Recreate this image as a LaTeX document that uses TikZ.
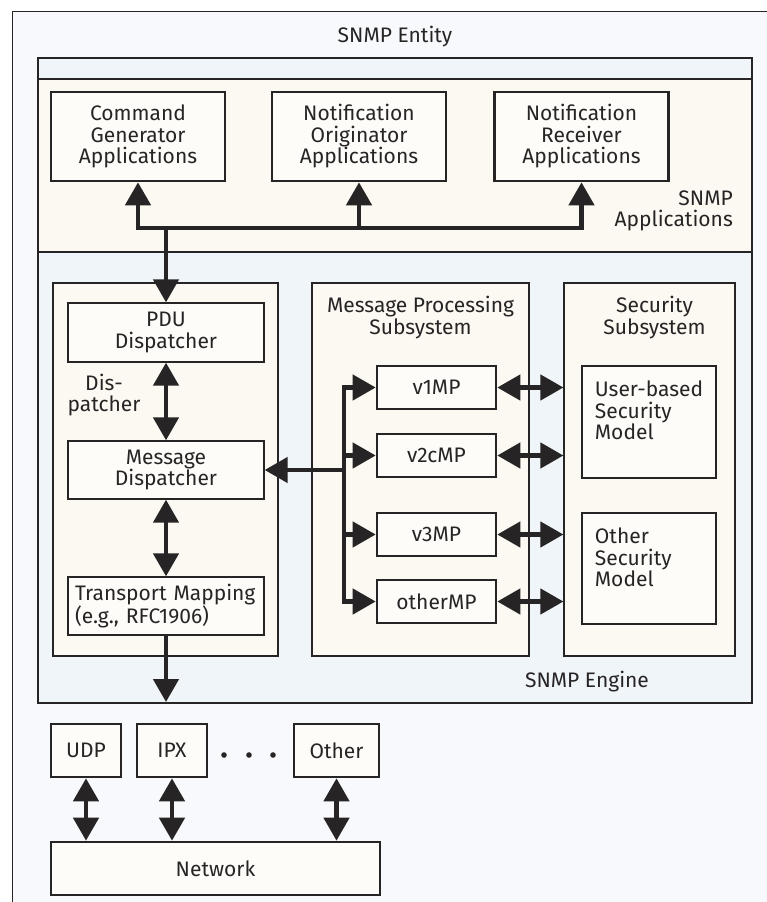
\documentclass[tikz,border=0pt]{standalone}
\usepackage{fontspec}
\setmainfont{Fira Sans}
\usetikzlibrary{arrows.meta}
\definecolor{entityfill}{RGB}{248,249,252}
\definecolor{bluefill}{RGB}{240,245,250}
\definecolor{beigefill}{RGB}{252,248,242}
\definecolor{boxfill}{RGB}{253,252,249}
\definecolor{edge}{RGB}{38,36,36}

\begin{document}
\begin{tikzpicture}[x=1pt, y=-1pt,
    every node/.style={font=\fontsize{21}{21.5}\selectfont, text=edge},
    frame/.style={draw=edge, line width=1.2pt},
    plainbox/.style={draw=edge, line width=1.3pt, fill=boxfill, inner sep=0pt, minimum width=196pt, minimum height=58pt, align=center},
    heavybox/.style={draw=edge, line width=2.6pt, fill=boxfill, inner sep=0pt, align=center},
    subsys/.style={draw=edge, line width=1.2pt, fill=beigefill, inner sep=0pt, minimum height=373pt},
    link/.style={line width=4.5pt, draw=edge, -{Triangle[length=23pt, width=25pt]}},
    dlink/.style={line width=4.5pt, draw=edge, {Triangle[length=23pt, width=25pt]}-{Triangle[length=23pt, width=25pt]}},
    bus/.style={line width=4.5pt, draw=edge, line cap=rect}
]
\useasboundingbox (0,0) rectangle (767,902);
\clip (0,0) rectangle (767,902);
\fill[white] (0,0) rectangle (767,902);

% containers
\draw[frame, line width=1pt, fill=entityfill] (12,11) rectangle (790,930);
\draw[frame, fill=beigefill] (38,58) rectangle (752,252);
\draw[frame, fill=bluefill] (38,58) rectangle (752,79);
\draw[frame, fill=bluefill] (38,252) rectangle (752,703);
\node (entity) at (395,37) {SNMP Entity};
\node[anchor=east, align=right, inner sep=0pt] (appslabel) at (733,211) {SNMP\\Applications};
\node (enginelabel) at (587,682) {SNMP Engine};

% applications
\node[heavybox, minimum width=174pt, minimum height=89pt] (cmdgen) at (138,136.5) {Command\\Generator\\Applications};
\node[heavybox, minimum width=174pt, minimum height=89pt] (notiforig) at (359,136.5) {Notification\\Originator\\Applications};
\node[heavybox, minimum width=174pt, minimum height=89pt] (notifrecv) at (581.5,136.5) {Notification\\Receiver\\Applications};

% dispatcher
\node[subsys, minimum width=225pt] (dispsub) at (165.5,469.5) {};
\node[plainbox, minimum height=59pt] (pdu) at (166,332.5) {PDU\\Dispatcher};
\node[plainbox] (md) at (166,470) {Message\\Dispatcher};
\node[plainbox, text width=182pt, align=left] (tm) at (166,606) {Transport Mapping\\(e.g., RFC1906)};
\node[align=center] (displabel) at (104,395) {Dis-\\patcher};

% message processing
\node[subsys, minimum width=217pt] (mpsub) at (420.5,469.5) {};
\node[anchor=north, align=center, inner sep=0pt] (mptitle) at ([yshift=-14pt]mpsub.north) {Message Processing\\Subsystem};
\node[heavybox, minimum width=119pt, minimum height=43pt] (v1mp) at (436.5,387.5) {v1MP};
\node[heavybox, minimum width=119pt, minimum height=43pt] (v2cmp) at (436.5,455.5) {v2cMP};
\node[heavybox, minimum width=119pt, minimum height=43pt] (v3mp) at (436.5,534.5) {v3MP};
\node[heavybox, minimum width=119pt, minimum height=43pt] (othermp) at (436.5,601.5) {otherMP};

% security
\node[subsys, minimum width=171pt] (secsub) at (649.5,469.5) {};
\node[anchor=north, align=center, inner sep=0pt] (sectitle) at ([xshift=5pt, yshift=-14pt]secsub.north) {Security\\Subsystem};
\node[heavybox, minimum width=134pt, minimum height=112pt] (usm) at (649,422) {};
\node[anchor=north west, align=left, inner sep=0pt] (usmtext) at ([xshift=14pt, yshift=-16pt]usm.north west) {User-based\\Security\\Model};
\node[heavybox, minimum width=134pt, minimum height=111pt] (osm) at (649,568.5) {};
\node[anchor=north west, align=left, inner sep=0pt] (osmtext) at ([xshift=14pt, yshift=-16pt]osm.north west) {Other\\Security\\Model};

% transports
\node[heavybox, minimum width=70pt, minimum height=53pt] (udp) at (86,750.5) {UDP};
\node[heavybox, minimum width=70pt, minimum height=53pt] (ipx) at (172,750.5) {IPX};
\node[heavybox, minimum width=85pt, minimum height=53pt] (other) at (336.5,750.5) {Other};
\node[heavybox, minimum width=329pt, minimum height=53pt] (net) at (215.5,868.5) {Network};
\foreach \x in {224,249,273}
    \fill[edge] (\x,755) circle (2.8pt);

% connectors
\coordinate (appbus) at (166,228);
\draw[bus] (cmdgen.south |- appbus) -- (notifrecv.south |- appbus);
\foreach \n in {cmdgen,notiforig,notifrecv}
    \draw[link] (\n.south |- appbus) -- (\n.south);
\draw[link] (appbus) -- (pdu.north);
\draw[dlink] (pdu.south) -- (md.north);
\draw[dlink] (md.south) -- (tm.north);
\coordinate (enginebottom) at (166,702);
\draw[link] (tm.south) -- (enginebottom);

\coordinate (mpbus) at (344,470);
\draw[bus] (mpbus |- v1mp.west) -- (mpbus |- othermp.west);
\foreach \n in {v1mp,v2cmp,v3mp,othermp} {
    \draw[link] (mpbus |- \n.west) -- (\n.west);
    \draw[dlink] (\n.east) -- (\n.east -| secsub.west);
}
\draw[link] (mpbus) -- (md.east);

\foreach \n in {udp,ipx,other}
    \draw[dlink] (\n.south) -- (\n.south |- net.north);
\end{tikzpicture}
\end{document}
